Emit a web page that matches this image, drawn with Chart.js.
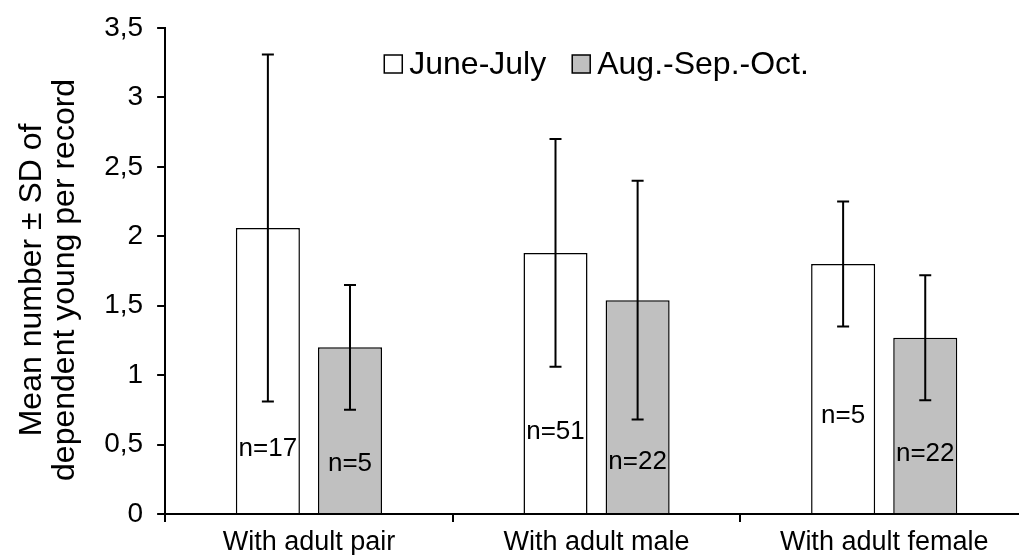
<!DOCTYPE html>
<html>
<head>
<meta charset="utf-8">
<script src="https://cdn.jsdelivr.net/npm/chart.js@4"></script>
<style>
    html, body { margin: 0; padding: 0; background: #fff; overflow: hidden; }
    #wrap { width: 1030px; height: 564px; position: relative; }
</style>
</head>
<body>
<div id="wrap"><canvas id="chart"></canvas></div>
<script>
const categories = ['With adult pair', 'With adult male', 'With adult female'];
const seriesNames = ['June-July', 'Aug.-Sep.-Oct.'];
const juneMean = [2.06, 1.88, 1.80];
const juneSd = [1.25, 0.82, 0.45];
const augMean = [1.20, 1.54, 1.27];
const augSd = [0.45, 0.86, 0.45];
const juneN = [17, 51, 5];
const augN = [5, 22, 22];
const yTicks = [0, 0.5, 1, 1.5, 2, 2.5, 3, 3.5];
// height (y units) of the n= labels inside the bars
const juneLabelAt = [0.47, 0.59, 0.71];
const augLabelAt = [0.36, 0.375, 0.435];

const FONT = '"Liberation Sans", Arial, sans-serif';

// SD whiskers + n labels
const errorBars = {
    id: 'errorBars',
    afterDatasetsDraw(chart) {
        const ctx = chart.ctx, y = chart.scales.y;
        chart.data.datasets.forEach((ds, i) => {
            const meta = chart.getDatasetMeta(i);
            meta.data.forEach((bar, j) => {
                const top = y.getPixelForValue(ds.data[j] + ds.sd[j]);
                const bot = y.getPixelForValue(ds.data[j] - ds.sd[j]);
                ctx.save();
                ctx.strokeStyle = '#000';
                ctx.lineWidth = 2;
                ctx.beginPath();
                ctx.moveTo(bar.x, top); ctx.lineTo(bar.x, bot);
                ctx.moveTo(bar.x - 6, top); ctx.lineTo(bar.x + 6, top);
                ctx.moveTo(bar.x - 6, bot); ctx.lineTo(bar.x + 6, bot);
                ctx.stroke();
                ctx.fillStyle = '#000';
                ctx.font = '26px ' + FONT;
                ctx.textAlign = 'center';
                ctx.textBaseline = 'middle';
                ctx.fillText('n=' + ds.n[j], bar.x, y.getPixelForValue(ds.labelAt[j]));
                ctx.restore();
            });
        });
    }
};

// legend drawn inside the plot, near the top
const boxLegend = {
    id: 'boxLegend',
    afterDraw(chart) {
        const ctx = chart.ctx, area = chart.chartArea;
        const box = 18, gapText = 7, gapItem = 26;
        ctx.save();
        ctx.font = '32px ' + FONT;
        const items = chart.data.datasets.map(ds => ({
            label: ds.label,
            fill: ds.backgroundColor,
            w: box + gapText + ctx.measureText(ds.label).width
        }));
        const total = items.reduce((s, it) => s + it.w, 0) + gapItem * (items.length - 1);
        let x = (area.left + area.right) / 2 - total / 2;
        const cy = area.top + 36;
        items.forEach(it => {
            ctx.fillStyle = it.fill;
            ctx.fillRect(x, cy - box / 2, box, box);
            ctx.strokeStyle = '#000';
            ctx.lineWidth = 1.5;
            ctx.strokeRect(x, cy - box / 2, box, box);
            ctx.fillStyle = '#000';
            ctx.textAlign = 'left';
            ctx.textBaseline = 'middle';
            ctx.fillText(it.label, x + box + gapText, cy + 1);
            x += it.w + gapItem;
        });
        ctx.restore();
    }
};

new Chart(document.getElementById('chart'), {
    type: 'bar',
    data: {
        labels: categories,
        datasets: [
            { label: seriesNames[0], data: juneMean, sd: juneSd, n: juneN, labelAt: juneLabelAt, backgroundColor: '#ffffff', borderColor: '#000', borderWidth: 1.5 },
            { label: seriesNames[1], data: augMean, sd: augSd, n: augN, labelAt: augLabelAt, backgroundColor: '#c0c0c0', borderColor: '#000', borderWidth: 1.5 }
        ]
    },
    options: {
        responsive: true,
        maintainAspectRatio: false,
        animation: false,
        categoryPercentage: 0.571,
        barPercentage: 0.78,
        layout: { padding: { left: 15, top: 5, right: 2, bottom: 0 } },
        plugins: { legend: { display: false }, tooltip: { enabled: false } },
        scales: {
            x: {
                grid: { drawOnChartArea: false, drawTicks: true, tickLength: 8, color: '#000', lineWidth: 2, offset: true },
                border: { color: '#000', width: 2 },
                ticks: { color: '#000', font: { family: FONT, size: 27, lineHeight: 1 }, padding: 7.5, maxRotation: 0 }
            },
            y: {
                min: 0,
                max: 3.5,
                afterBuildTicks: (scale) => { scale.ticks = yTicks.map(v => ({ value: v })); },
                grid: { drawOnChartArea: false, drawTicks: true, tickLength: 8, color: '#000', lineWidth: 2 },
                border: { color: '#000', width: 2 },
                ticks: { color: '#000', font: { family: FONT, size: 28, lineHeight: 1 }, padding: 14,
                    callback: (v) => String(v).replace('.', ',') },
                title: {
                    display: true,
                    // trailing spaces nudge the centred title a little lower, like the original
                    text: ['Mean number \u00b1 SD of  ', 'dependent young per record  '],
                    color: '#000',
                    font: { family: FONT, size: 32, lineHeight: 1.05 },
                    padding: { top: 0, bottom: 8 }
                }
            }
        }
    },
    plugins: [errorBars, boxLegend]
});
</script>
</body>
</html>
